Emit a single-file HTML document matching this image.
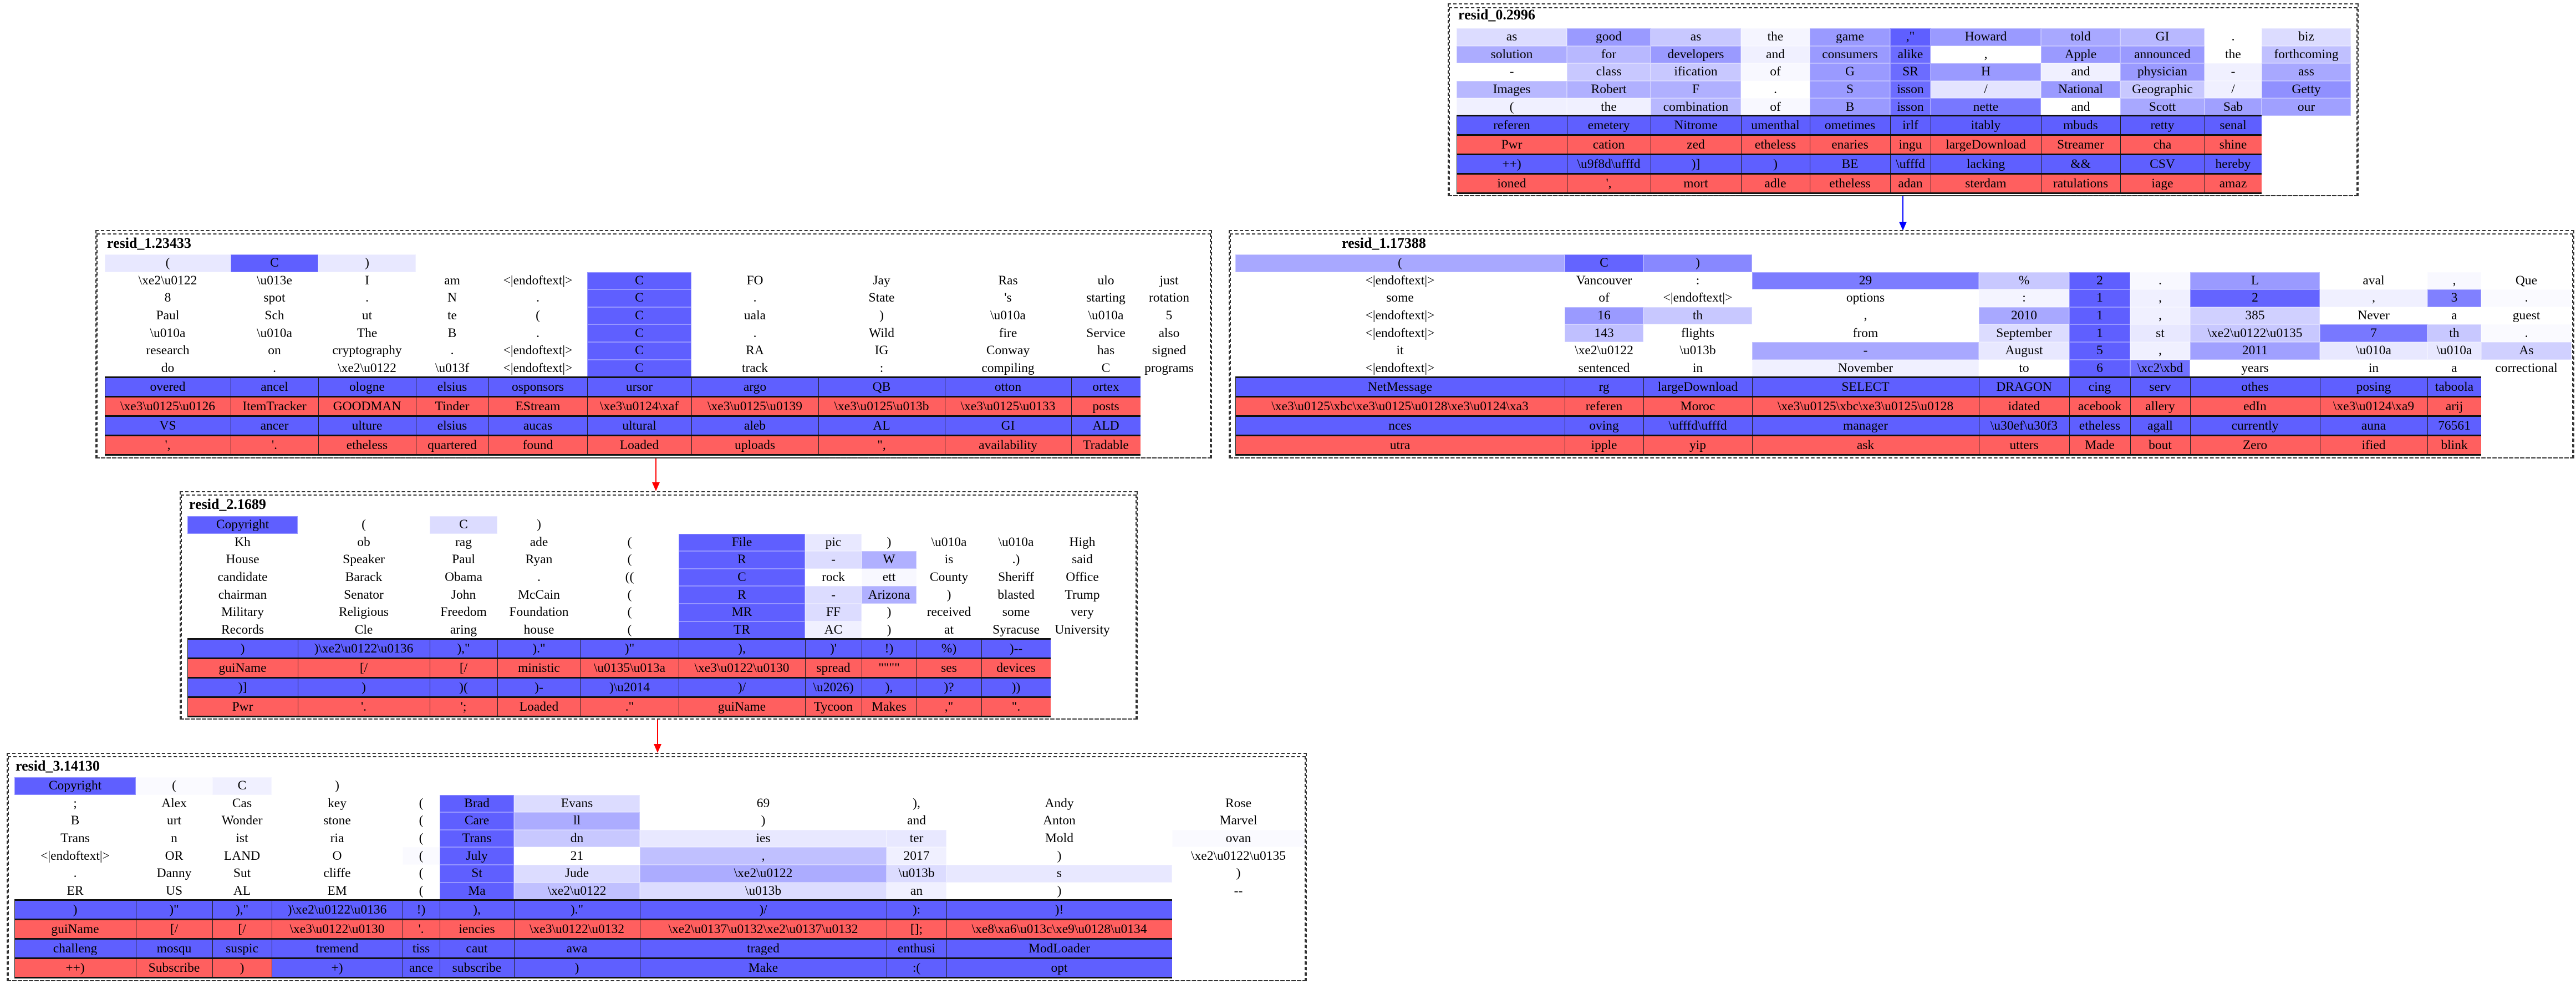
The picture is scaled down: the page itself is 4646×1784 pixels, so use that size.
<!DOCTYPE html>
<html><head><meta charset="utf-8"><style>
body{margin:0;width:4646px;height:1784px;background:#fff;position:relative;overflow:hidden;font-family:"Liberation Serif","DejaVu Serif",serif}
.box{position:absolute;border:2px dashed #333;box-sizing:border-box}
.t{position:absolute;font-weight:bold;font-size:26px;line-height:30px;color:#000}
.g{position:absolute;display:grid;grid-auto-rows:31.6px}
.g i,.c i{font-style:normal;display:flex;align-items:center;justify-content:center;font-size:23.5px;white-space:nowrap;overflow:hidden;color:#000;box-shadow:inset 0 0 0 1px rgba(255,255,255,0.35)}
.c{position:absolute;display:grid;grid-auto-rows:32px;row-gap:3px;padding:3px 0;background:#111}
.c i{background:#5f5fff;box-shadow:inset 1px 0 #222}
.c i.r{background:#ff5f5f}
.ln{position:absolute;width:2px}
.ah{position:absolute;width:0;height:0;border-left:7px solid transparent;border-right:7px solid transparent}
</style></head><body>

<!-- resid_0 -->
<div class="box" style="left:2611px;top:6px;width:1643px;height:348px"></div>
<div class="box" style="left:2613px;top:13px;width:1639px;height:341px;border-top-width:2px"></div>
<div class="t" style="left:2630px;top:12px">resid_0.2996</div>
<div class="g" style="left:2627px;top:51px;grid-template-columns:199px 151px 163px 124px 145px 73px 199px 143px 152px 103px 161px">
<i style="background:#dcdcff">as</i><i style="background:#9a9aff">good</i><i style="background:#c8c8ff">as</i><i style="background:#f5f5ff">the</i><i style="background:#9a9aff">game</i><i style="background:#5f5fff">,"</i><i style="background:#9a9aff">Howard</i><i style="background:#a8a8ff">told</i><i style="background:#b8b8ff">GI</i><i>.</i><i style="background:#dcdcff">biz</i>
<i style="background:#acacff">solution</i><i style="background:#b8b8ff">for</i><i style="background:#9a9aff">developers</i><i style="background:#f0f0ff">and</i><i style="background:#9a9aff">consumers</i><i style="background:#6c6cff">alike</i><i>,</i><i style="background:#9a9aff">Apple</i><i style="background:#9a9aff">announced</i><i>the</i><i style="background:#c0c0ff">forthcoming</i>
<i>-</i><i style="background:#c8c8ff">class</i><i style="background:#c8c8ff">ification</i><i style="background:#f8f8ff">of</i><i style="background:#9a9aff">G</i><i style="background:#6c6cff">SR</i><i style="background:#9a9aff">H</i><i style="background:#f0f0ff">and</i><i style="background:#9a9aff">physician</i><i style="background:#f0f0ff">-</i><i style="background:#a8a8ff">ass</i>
<i style="background:#b8b8ff">Images</i><i style="background:#b0b0ff">Robert</i><i style="background:#b0b0ff">F</i><i>.</i><i style="background:#9a9aff">S</i><i style="background:#6c6cff">isson</i><i style="background:#e4e4ff">/</i><i style="background:#9a9aff">National</i><i style="background:#c8c8ff">Geographic</i><i style="background:#f0f0ff">/</i><i style="background:#9090ff">Getty</i>
<i style="background:#f0f0ff">(</i><i style="background:#f0f0ff">the</i><i style="background:#b8b8ff">combination</i><i style="background:#f8f8ff">of</i><i style="background:#9a9aff">B</i><i style="background:#6c6cff">isson</i><i style="background:#7878ff">nette</i><i>and</i><i style="background:#a8a8ff">Scott</i><i style="background:#a0a0ff">Sab</i><i style="background:#a0a0ff">our</i>
</div>
<div class="c" style="left:2627px;top:207px;grid-template-columns:199px 151px 163px 124px 145px 73px 199px 143px 152px 103px">
<i>referen</i><i>emetery</i><i>Nitrome</i><i>umenthal</i><i>ometimes</i><i>irlf</i><i>itably</i><i>mbuds</i><i>retty</i><i>senal</i>
<i class="r">Pwr</i><i class="r">cation</i><i class="r">zed</i><i class="r">etheless</i><i class="r">enaries</i><i class="r">ingu</i><i class="r">largeDownload</i><i class="r">Streamer</i><i class="r">cha</i><i class="r">shine</i>
<i>++)</i><i>\u9f8d\ufffd</i><i>)]</i><i>)</i><i>BE</i><i>\ufffd</i><i>lacking</i><i>&amp;&amp;</i><i>CSV</i><i>hereby</i>
<i class="r">ioned</i><i class="r">',</i><i class="r">mort</i><i class="r">adle</i><i class="r">etheless</i><i class="r">adan</i><i class="r">sterdam</i><i class="r">ratulations</i><i class="r">iage</i><i class="r">amaz</i>
</div>

<!-- arrow 0 -> 1.17388 -->
<div class="ln" style="left:3431px;top:354px;height:50px;background:#00f"></div>
<div class="ah" style="left:3425px;top:400px;border-top:16px solid #00f"></div>

<!-- resid_1.23433 -->
<div class="box" style="left:172px;top:415px;width:2014px;height:412px"></div>
<div class="box" style="left:174px;top:421px;width:2010px;height:406px"></div>
<div class="t" style="left:193px;top:424px">resid_1.23433</div>
<div class="g" style="left:189px;top:459px;grid-template-columns:227px 158px 176px 131px 178px 188px 229px 228px 228px 125px 103px">
<i style="background:#e8e8ff">(</i><i style="background:#5f5fff">C</i><i style="background:#e8e8ff">)</i><i style="grid-column:span 8;box-shadow:none"></i>
<i>\xe2\u0122</i><i>\u013e</i><i>I</i><i>am</i><i>&lt;|endoftext|&gt;</i><i style="background:#5f5fff">C</i><i>FO</i><i>Jay</i><i>Ras</i><i>ulo</i><i>just</i>
<i>8</i><i>spot</i><i>.</i><i>N</i><i>.</i><i style="background:#5f5fff">C</i><i>.</i><i>State</i><i>'s</i><i>starting</i><i>rotation</i>
<i>Paul</i><i>Sch</i><i>ut</i><i>te</i><i>(</i><i style="background:#5f5fff">C</i><i>uala</i><i>)</i><i>\u010a</i><i>\u010a</i><i>5</i>
<i>\u010a</i><i>\u010a</i><i>The</i><i>B</i><i>.</i><i style="background:#5f5fff">C</i><i>.</i><i>Wild</i><i>fire</i><i>Service</i><i>also</i>
<i>research</i><i>on</i><i>cryptography</i><i>.</i><i>&lt;|endoftext|&gt;</i><i style="background:#5f5fff">C</i><i>RA</i><i>IG</i><i>Conway</i><i>has</i><i>signed</i>
<i>do</i><i>.</i><i>\xe2\u0122</i><i>\u013f</i><i>&lt;|endoftext|&gt;</i><i style="background:#5f5fff">C</i><i>track</i><i>:</i><i>compiling</i><i>C</i><i>programs</i>
</div>
<div class="c" style="left:189px;top:679px;grid-template-columns:227px 158px 176px 131px 178px 188px 229px 228px 228px 125px">
<i>overed</i><i>ancel</i><i>ologne</i><i>elsius</i><i>osponsors</i><i>ursor</i><i>argo</i><i>QB</i><i>otton</i><i>ortex</i>
<i class="r">\xe3\u0125\u0126</i><i class="r">ItemTracker</i><i class="r">GOODMAN</i><i class="r">Tinder</i><i class="r">EStream</i><i class="r">\xe3\u0124\xaf</i><i class="r">\xe3\u0125\u0139</i><i class="r">\xe3\u0125\u013b</i><i class="r">\xe3\u0125\u0133</i><i class="r">posts</i>
<i>VS</i><i>ancer</i><i>ulture</i><i>elsius</i><i>aucas</i><i>ultural</i><i>aleb</i><i>AL</i><i>GI</i><i>ALD</i>
<i class="r">',</i><i class="r">'.</i><i class="r">etheless</i><i class="r">quartered</i><i class="r">found</i><i class="r">Loaded</i><i class="r">uploads</i><i class="r">",</i><i class="r">availability</i><i class="r">Tradable</i>
</div>

<!-- resid_1.17388 -->
<div class="box" style="left:2216px;top:415px;width:2427px;height:412px"></div>
<div class="box" style="left:2218px;top:421px;width:2423px;height:406px"></div>
<div class="t" style="left:2420px;top:424px">resid_1.17388</div>
<div class="g" style="left:2228px;top:459px;grid-template-columns:594px 142px 196px 409px 163px 110px 108px 234px 194px 97px 163px">
<i style="background:#a8a8ff">(</i><i style="background:#6464ff">C</i><i style="background:#8888ff">)</i><i style="grid-column:span 8;box-shadow:none"></i>
<i>&lt;|endoftext|&gt;</i><i>Vancouver</i><i>:</i><i style="background:#7c7cff">29</i><i style="background:#c8c8ff">%</i><i style="background:#5f5fff">2</i><i style="background:#f8f8ff">.</i><i style="background:#9a9aff">L</i><i>aval</i><i style="background:#f8f8ff">,</i><i>Que</i>
<i>some</i><i>of</i><i>&lt;|endoftext|&gt;</i><i>options</i><i style="background:#f4f4ff">:</i><i style="background:#5f5fff">1</i><i style="background:#f0f0ff">,</i><i style="background:#6464ff">2</i><i style="background:#f0f0ff">,</i><i style="background:#8080ff">3</i><i style="background:#fafaff">.</i>
<i>&lt;|endoftext|&gt;</i><i style="background:#9a9aff">16</i><i style="background:#c8c8ff">th</i><i>,</i><i style="background:#a8a8ff">2010</i><i style="background:#5f5fff">1</i><i style="background:#f0f0ff">,</i><i style="background:#d0d0ff">385</i><i>Never</i><i>a</i><i>guest</i>
<i>&lt;|endoftext|&gt;</i><i style="background:#c0c0ff">143</i><i>flights</i><i>from</i><i style="background:#dcdcff">September</i><i style="background:#5f5fff">1</i><i style="background:#e8e8ff">st</i><i style="background:#c8c8ff">\xe2\u0122\u0135</i><i style="background:#7878ff">7</i><i style="background:#c8c8ff">th</i><i style="background:#fafaff">.</i>
<i>it</i><i>\xe2\u0122</i><i>\u013b</i><i style="background:#a8a8ff">-</i><i style="background:#e8e8ff">August</i><i style="background:#5f5fff">5</i><i style="background:#f0f0ff">,</i><i style="background:#a0a0ff">2011</i><i style="background:#e8e8ff">\u010a</i><i style="background:#e8e8ff">\u010a</i><i style="background:#d0d0ff">As</i>
<i>&lt;|endoftext|&gt;</i><i>sentenced</i><i>in</i><i style="background:#f0f0ff">November</i><i>to</i><i style="background:#5f5fff">6</i><i style="background:#7070ff">\xc2\xbd</i><i>years</i><i>in</i><i>a</i><i>correctional</i>
</div>
<div class="c" style="left:2228px;top:679px;grid-template-columns:594px 142px 196px 409px 163px 110px 108px 234px 194px 97px">
<i>NetMessage</i><i>rg</i><i>largeDownload</i><i>SELECT</i><i>DRAGON</i><i>cing</i><i>serv</i><i>othes</i><i>posing</i><i>taboola</i>
<i class="r">\xe3\u0125\xbc\xe3\u0125\u0128\xe3\u0124\xa3</i><i class="r">referen</i><i class="r">Moroc</i><i class="r">\xe3\u0125\xbc\xe3\u0125\u0128</i><i class="r">idated</i><i class="r">acebook</i><i class="r">allery</i><i class="r">edIn</i><i class="r">\xe3\u0124\xa9</i><i class="r">arij</i>
<i>nces</i><i>oving</i><i>\ufffd\ufffd</i><i>manager</i><i>\u30ef\u30f3</i><i>etheless</i><i>agall</i><i>currently</i><i>auna</i><i>76561</i>
<i class="r">utra</i><i class="r">ipple</i><i class="r">yip</i><i class="r">ask</i><i class="r">utters</i><i class="r">Made</i><i class="r">bout</i><i class="r">Zero</i><i class="r">ified</i><i class="r">blink</i>
</div>

<!-- arrow 1.23433 -> 2 -->
<div class="ln" style="left:1182px;top:827px;height:46px;background:#f00"></div>
<div class="ah" style="left:1176px;top:870px;border-top:16px solid #f00"></div>

<!-- resid_2.1689 -->
<div class="box" style="left:324px;top:886px;width:1728px;height:412px"></div>
<div class="box" style="left:326px;top:892px;width:1724px;height:406px"></div>
<div class="t" style="left:341px;top:895px">resid_2.1689</div>
<div class="g" style="left:338px;top:931px;grid-template-columns:199px 238px 122px 150px 177px 228px 102px 99px 117px 125px 114px">
<i style="background:#5f5fff">Copyright</i><i>(</i><i style="background:#dcdcff">C</i><i>)</i><i style="grid-column:span 7;box-shadow:none"></i>
<i>Kh</i><i>ob</i><i>rag</i><i>ade</i><i>(</i><i style="background:#5f5fff">File</i><i style="background:#e8e8ff">pic</i><i>)</i><i>\u010a</i><i>\u010a</i><i>High</i>
<i>House</i><i>Speaker</i><i>Paul</i><i>Ryan</i><i>(</i><i style="background:#5f5fff">R</i><i style="background:#dcdcff">-</i><i style="background:#b0b0ff">W</i><i>is</i><i>.)</i><i>said</i>
<i>candidate</i><i>Barack</i><i>Obama</i><i>.</i><i>((</i><i style="background:#5f5fff">C</i><i>rock</i><i style="background:#f8f8ff">ett</i><i>County</i><i>Sheriff</i><i>Office</i>
<i>chairman</i><i>Senator</i><i>John</i><i>McCain</i><i>(</i><i style="background:#5f5fff">R</i><i style="background:#dcdcff">-</i><i style="background:#b0b0ff">Arizona</i><i>)</i><i>blasted</i><i>Trump</i>
<i>Military</i><i>Religious</i><i>Freedom</i><i>Foundation</i><i>(</i><i style="background:#5f5fff">MR</i><i style="background:#dcdcff">FF</i><i>)</i><i>received</i><i>some</i><i>very</i>
<i>Records</i><i>Cle</i><i>aring</i><i>house</i><i>(</i><i style="background:#5f5fff">TR</i><i style="background:#f0f0ff">AC</i><i>)</i><i>at</i><i>Syracuse</i><i>University</i>
</div>
<div class="c" style="left:338px;top:1151px;grid-template-columns:199px 238px 122px 150px 177px 228px 102px 99px 117px 125px">
<i>)</i><i>)\xe2\u0122\u0136</i><i>),"</i><i>)."</i><i>)"</i><i>),</i><i>)'</i><i>!)</i><i>%)</i><i>)--</i>
<i class="r">guiName</i><i class="r">[/</i><i class="r">[/</i><i class="r">ministic</i><i class="r">\u0135\u013a</i><i class="r">\xe3\u0122\u0130</i><i class="r">spread</i><i class="r">""""</i><i class="r">ses</i><i class="r">devices</i>
<i>)]</i><i>)</i><i>)(</i><i>)-</i><i>)\u2014</i><i>)/</i><i>\u2026)</i><i>),</i><i>)?</i><i>))</i>
<i class="r">Pwr</i><i class="r">'.</i><i class="r">';</i><i class="r">Loaded</i><i class="r">."</i><i class="r">guiName</i><i class="r">Tycoon</i><i class="r">Makes</i><i class="r">,"</i><i class="r">".</i>
</div>

<!-- arrow 2 -> 3 -->
<div class="ln" style="left:1185px;top:1298px;height:46px;background:#f00"></div>
<div class="ah" style="left:1179px;top:1342px;border-top:16px solid #f00"></div>

<!-- resid_3.14130 -->
<div class="box" style="left:12px;top:1358px;width:2345px;height:412px"></div>
<div class="box" style="left:14px;top:1364px;width:2341px;height:406px"></div>
<div class="t" style="left:28px;top:1367px">resid_3.14130</div>
<div class="g" style="left:26px;top:1402px;grid-template-columns:219px 138px 107px 236px 67px 134px 227px 445px 108px 407px 239px">
<i style="background:#5f5fff">Copyright</i><i style="background:#fafaff">(</i><i style="background:#f0f0ff">C</i><i>)</i><i style="grid-column:span 7;box-shadow:none"></i>
<i>;</i><i>Alex</i><i>Cas</i><i>key</i><i>(</i><i style="background:#5f5fff">Brad</i><i style="background:#dcdcff">Evans</i><i>69</i><i>),</i><i>Andy</i><i>Rose</i>
<i>B</i><i>urt</i><i>Wonder</i><i>stone</i><i>(</i><i style="background:#5f5fff">Care</i><i style="background:#acacff">ll</i><i>)</i><i>and</i><i>Anton</i><i>Marvel</i>
<i>Trans</i><i>n</i><i>ist</i><i>ria</i><i>(</i><i style="background:#5f5fff">Trans</i><i style="background:#c8c8ff">dn</i><i style="background:#e8e8ff">ies</i><i style="background:#e8e8ff">ter</i><i>Mold</i><i style="background:#fafaff">ovan</i>
<i>&lt;|endoftext|&gt;</i><i>OR</i><i>LAND</i><i>O</i><i style="background:#fafaff">(</i><i style="background:#5f5fff">July</i><i>21</i><i style="background:#c0c0ff">,</i><i style="background:#f0f0ff">2017</i><i>)</i><i>\xe2\u0122\u0135</i>
<i>.</i><i>Danny</i><i>Sut</i><i>cliffe</i><i>(</i><i style="background:#5f5fff">St</i><i style="background:#dcdcff">Jude</i><i style="background:#acacff">\xe2\u0122</i><i style="background:#dcdcff">\u013b</i><i style="background:#e8e8ff">s</i><i>)</i>
<i>ER</i><i>US</i><i>AL</i><i>EM</i><i>(</i><i style="background:#5f5fff">Ma</i><i style="background:#c0c0ff">\xe2\u0122</i><i style="background:#dcdcff">\u013b</i><i style="background:#f0f0ff">an</i><i>)</i><i>--</i>
</div>
<div class="c" style="left:26px;top:1622px;grid-template-columns:219px 138px 107px 236px 67px 134px 227px 445px 108px 407px">
<i>)</i><i>)"</i><i>),"</i><i>)\xe2\u0122\u0136</i><i>!)</i><i>),</i><i>)."</i><i>)/</i><i>):</i><i>)!</i>
<i class="r">guiName</i><i class="r">[/</i><i class="r">[/</i><i class="r">\xe3\u0122\u0130</i><i class="r">'.</i><i class="r">iencies</i><i class="r">\xe3\u0122\u0132</i><i class="r">\xe2\u0137\u0132\xe2\u0137\u0132</i><i class="r">[];</i><i class="r">\xe8\xa6\u013c\xe9\u0128\u0134</i>
<i>challeng</i><i>mosqu</i><i>suspic</i><i>tremend</i><i>tiss</i><i>caut</i><i>awa</i><i>traged</i><i>enthusi</i><i>ModLoader</i>
<i class="r">++)</i><i class="r">Subscribe</i><i class="r">)</i><i>+)</i><i>ance</i><i>subscribe</i><i>)</i><i>Make</i><i>:(</i><i>opt</i>
</div>

</body></html>
